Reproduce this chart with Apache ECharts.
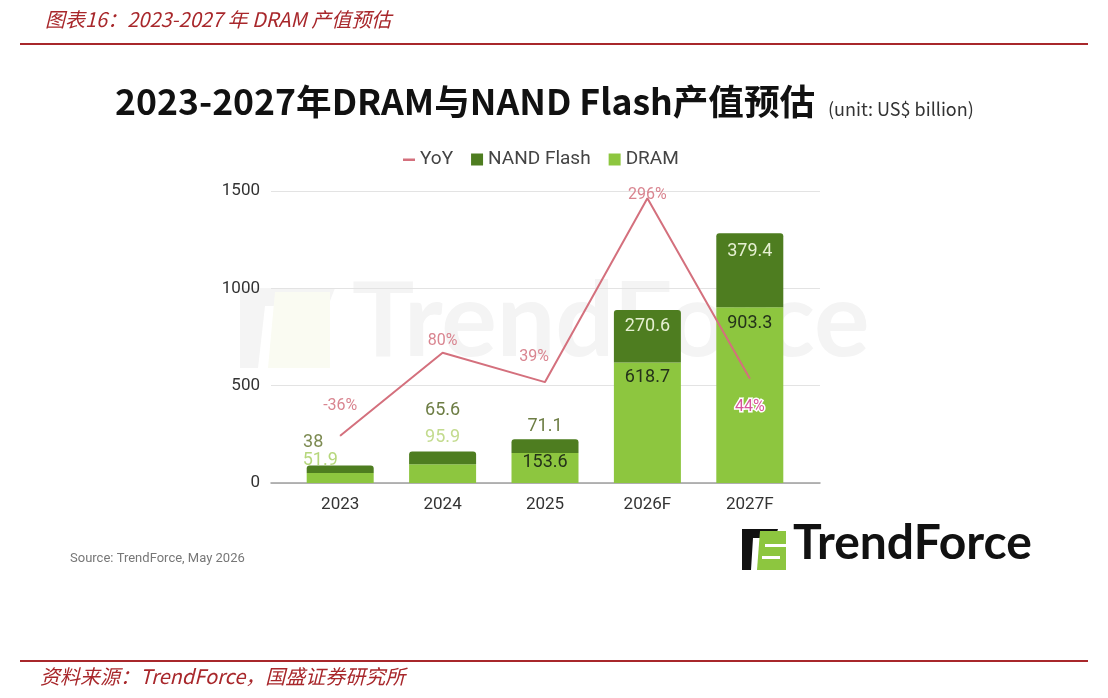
<!DOCTYPE html>
<html>
<head>
<meta charset="utf-8">
<script src="https://cdn.jsdelivr.net/npm/echarts@6/dist/echarts.min.js"></script>
<style>
html, body { margin: 0; padding: 0; background: #fff; }
#main { width: 1108px; height: 698px; }
</style>
</head>
<body>
<div id="main"></div>
<script>
var years = ['2023', '2024', '2025', '2026F', '2027F'];
var dramValues = [51.9, 95.9, 153.6, 618.7, 903.3];
var nandValues = [38, 65.6, 71.1, 270.6, 379.4];
var yoyValues = [-36, 80, 39, 296, 44];
var yTicks = [0, 500, 1000, 1500];

// label placement per bar / point (styles only)
var nandLabels = [
	{ position: 'top', distance: 14, offset: [-27, 0], color: '#7d8b52' },
	{ position: 'top', distance: 32, color: '#6d7d44' },
	{ position: 'top', distance: 4, color: '#6d7d44' },
	{ position: 'insideTop', distance: 8, color: '#e6f0d2' },
	{ position: 'insideTop', distance: 9, color: '#e6f0d2' }
];
var dramLabels = [
	{ position: 'top', distance: 3, offset: [-20, 0], color: '#b6d77c' },
	{ position: 'top', distance: 18, color: '#c3db8e' },
	{ position: 'insideTop', distance: 0, color: '#24321a' },
	{ position: 'insideTop', distance: 6, color: '#24321a' },
	{ position: 'insideTop', distance: 7, color: '#24321a' }
];
var yoyLabels = [
	{ position: 'top', distance: 21 },
	{ position: 'top', distance: 3 },
	{ position: 'top', distance: 17, offset: [-11, 0] },
	{ position: 'inside', offset: [0, -3] },
	{ position: 'bottom', distance: 20, color: '#d8579c', textBorderColor: '#fff', textBorderWidth: 3 }
];

var NAND_COLOR = '#4e7d20';
var DRAM_COLOR = '#8dc63f';
var YOY_COLOR = '#d4707d';
var RED = '#a8272b';

function withLabels(values, labels) {
	return values.map(function (v, i) {
		return { value: v, label: labels[i] };
	});
}

var myChart = echarts.init(document.getElementById('main'));
var option = {
	backgroundColor: '#fff',
	animation: false,
	textStyle: { fontFamily: 'Roboto' },
	legend: {
		left: 398,
		top: 145,
		itemWidth: 12,
		itemHeight: 12,
		itemGap: 18,
		textStyle: { fontSize: 19, color: '#444', fontFamily: 'Roboto' },
		data: [
			{ name: 'YoY', icon: 'path://M0,0h0.01v0.01h-0.01z M0,5h12v2.5h-12z M11.99,11.99h0.01v0.01h-0.01z' },
			{ name: 'NAND Flash', icon: 'rect' },
			{ name: 'DRAM', icon: 'rect' }
		]
	},
	grid: [
		{ left: 271, right: 288, top: 191, bottom: 215 },
		{ left: 289, right: 307, top: 191, bottom: 215 }
	],
	xAxis: [
		{
			type: 'value', gridIndex: 0, min: 0, max: 1,
			axisLabel: { show: false },
			axisTick: { show: false },
			splitLine: { show: false },
			axisLine: { show: true, lineStyle: { color: '#9e9e9e', width: 1.5 } }
		},
		{
			type: 'category', gridIndex: 1, data: years,
			axisLine: { show: false },
			axisTick: { show: false },
			axisLabel: { fontSize: 17, color: '#333', margin: 13 }
		}
	],
	yAxis: [
		{
			type: 'value', gridIndex: 0,
			min: yTicks[0], max: yTicks[yTicks.length - 1], interval: 500,
			axisLine: { show: false },
			axisTick: { show: false },
			axisLabel: { fontSize: 17, color: '#333', margin: 11, formatter: function (v) { return String(v); } },
			splitLine: { lineStyle: { color: '#e3e3e3', width: 1.2 } }
		},
		{
			type: 'value', gridIndex: 1,
			min: yTicks[0], max: yTicks[yTicks.length - 1], show: false
		},
		{
			type: 'value', gridIndex: 1, min: -102, max: 306, show: false
		}
	],
	series: [
		{
			name: 'DRAM',
			type: 'bar',
			stack: 'total',
			xAxisIndex: 1,
			yAxisIndex: 1,
			barWidth: 67,
			itemStyle: { color: DRAM_COLOR },
			label: { show: true, fontSize: 18, fontFamily: 'Roboto' },
			data: withLabels(dramValues, dramLabels)
		},
		{
			name: 'NAND Flash',
			type: 'bar',
			stack: 'total',
			xAxisIndex: 1,
			yAxisIndex: 1,
			barWidth: 67,
			itemStyle: { color: NAND_COLOR, borderRadius: [3, 3, 0, 0] },
			label: { show: true, fontSize: 18, fontFamily: 'Roboto' },
			data: withLabels(nandValues, nandLabels)
		},
		{
			name: 'YoY',
			type: 'line',
			xAxisIndex: 1,
			yAxisIndex: 2,
			z: 5,
			symbol: 'circle',
			symbolSize: 1,
			itemStyle: { color: YOY_COLOR },
			lineStyle: { color: YOY_COLOR, width: 2 },
			label: {
				show: true, fontSize: 16, color: '#d98590', fontFamily: 'Roboto',
				formatter: function (p) { return p.value + '%'; }
			},
			data: withLabels(yoyValues, yoyLabels)
		}
	],
	graphic: [
		// watermark
		{ type: 'text', z: -10, left: 352, top: 270, style: { text: 'TrendForce', fontSize: 104, fontWeight: 'bold', fontFamily: 'Lato', fill: '#f4f4f4' } },
		{ type: 'polygon', z: -10, shape: { points: [[240, 288], [335, 288], [328, 306], [240, 306]] }, style: { fill: '#f4f4f4' } },
		{ type: 'polygon', z: -10, shape: { points: [[240, 306], [265, 306], [258, 368], [240, 368]] }, style: { fill: '#f4f4f4' } },
		{ type: 'polygon', z: -10, shape: { points: [[275, 292], [330, 292], [330, 368], [268, 368]] }, style: { fill: '#fafbf2' } },
		// header
		{ type: 'text', left: 45, top: 9, style: { text: '图表16：2023-2027 年 DRAM 产值预估', fontSize: 20, fontStyle: 'italic', fontFamily: 'Noto Sans CJK SC', fill: RED } },
		{ type: 'rect', shape: { x: 20, y: 43, width: 1068, height: 2 }, style: { fill: RED } },
		// chart title
		{ type: 'text', left: 115, top: 84, style: { text: '2023-2027年DRAM与NAND Flash产值预估', fontSize: 35.6, fontWeight: 'bold', fontFamily: 'Noto Sans CJK SC', fill: '#111' } },
		{ type: 'text', left: 828, top: 100, style: { text: '(unit: US$ billion)', fontSize: 18, fontFamily: 'Noto Sans CJK SC', fill: '#333' } },
		// source
		{ type: 'text', left: 70, top: 552, style: { text: 'Source: TrendForce, May 2026', fontSize: 13, fontFamily: 'Roboto', fill: '#777' } },
		// logo
		{ type: 'polygon', shape: { points: [[742, 529], [778, 529], [775, 538], [742, 538]] }, style: { fill: '#111' } },
		{ type: 'polygon', shape: { points: [[742, 538], [753, 538], [751, 570], [742, 570]] }, style: { fill: '#111' } },
		{ type: 'polygon', shape: { points: [[760, 531], [786, 531], [786, 570], [757, 570]] }, style: { fill: DRAM_COLOR } },
		{ type: 'rect', shape: { x: 765, y: 544, width: 21, height: 3 }, style: { fill: '#fff' } },
		{ type: 'rect', shape: { x: 762, y: 556, width: 18, height: 3 }, style: { fill: '#fff' } },
		{ type: 'text', left: 793, top: 520, style: { text: 'TrendForce', fontSize: 48, fontWeight: 'bold', fontFamily: 'Lato', fill: '#111' } },
		// footer
		{ type: 'rect', shape: { x: 20, y: 660, width: 1068, height: 2 }, style: { fill: RED } },
		{ type: 'text', left: 40, top: 666, style: { text: '资料来源：TrendForce，国盛证券研究所', fontSize: 20, fontStyle: 'italic', fontFamily: 'Noto Sans CJK SC', fill: RED } }
	]
};
myChart.setOption(option);
</script>
</body>
</html>
